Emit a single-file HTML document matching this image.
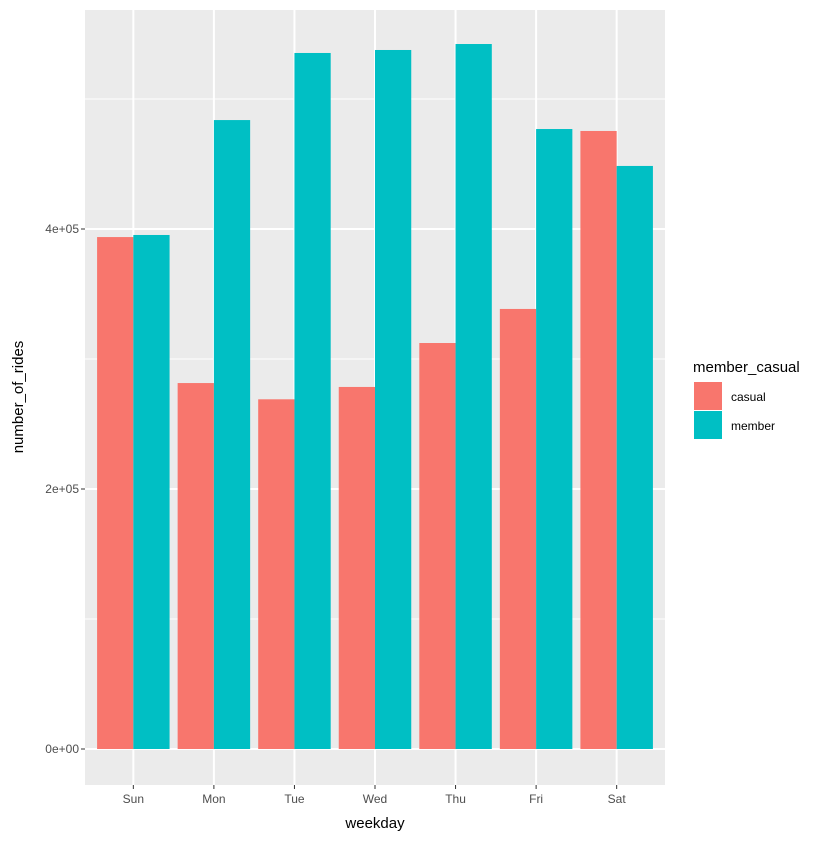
<!DOCTYPE html>
<html><head><meta charset="utf-8"><style>
body{margin:0;background:#fff;font-family:"Liberation Sans",sans-serif;}
</style></head><body>
<svg id="c" width="840" height="840" xmlns="http://www.w3.org/2000/svg"></svg>
<script>
const categories=["Sun","Mon","Tue","Wed","Thu","Fri","Sat"];
const casualValues=[393800,281500,269000,278500,312300,338500,475400];
const memberValues=[395400,483800,535400,537700,542300,476900,448500];
const yTicks=[0,200000,400000];
const yTickLabels=["0e+00","2e+05","4e+05"];
const yMinor=[100000,300000,500000];
const NS="http://www.w3.org/2000/svg";
const svg=document.getElementById('c');
const L=85,R=665,T=10,B=785;
const bw=(R-L)/7.2;
function xc(i){return L+(i+0.6)*bw;}
function y(v){return 749-v*0.0013;}
function mk(t,a,p){const e=document.createElementNS(NS,t);for(const k in a)e.setAttribute(k,a[k]);(p||svg).appendChild(e);return e;}
const panel=mk('rect',{x:L,y:T,width:R-L,height:B-T,fill:'#ebebeb'});


yMinor.forEach(v=>{const l=mk('line',{x1:L,x2:R,y1:y(v),y2:y(v),stroke:'#fff','stroke-width':1});

});
yTicks.forEach((v,i)=>{const l=mk('line',{x1:L,x2:R,y1:y(v),y2:y(v),stroke:'#fff','stroke-width':2});


const tk=mk('line',{x1:L-4,x2:L,y1:y(v),y2:y(v),stroke:'#333','stroke-width':1});


const t=mk('text',{x:L-6,y:y(v)+4,'text-anchor':'end','font-size':12,fill:'#4d4d4d'});t.textContent=yTickLabels[i];

});
categories.forEach((c,i)=>{const x=xc(i);
const g=mk('line',{x1:x,x2:x,y1:T,y2:B,stroke:'#fff','stroke-width':2});


const hw=bw*0.45;
const b1=mk('rect',{x:x-hw,y:y(casualValues[i]),width:hw,height:y(0)-y(casualValues[i]),fill:'#f8766d'});


const b2=mk('rect',{x:x,y:y(memberValues[i]),width:hw,height:y(0)-y(memberValues[i]),fill:'#00bfc4'});


const tk=mk('line',{x1:x,x2:x,y1:B,y2:B+4,stroke:'#333'});


const t=mk('text',{x:x,y:B+18,'text-anchor':'middle','font-size':12,fill:'#4d4d4d'});t.textContent=c;

});
const xt=mk('text',{x:(L+R)/2,y:828,'text-anchor':'middle','font-size':15,fill:'#000'});xt.textContent='weekday';


const yt=mk('text',{x:0,y:0,transform:'translate(23,397) rotate(-90)','text-anchor':'middle','font-size':15,fill:'#000'});yt.textContent='number_of_rides';


const lt=mk('text',{x:693,y:372,'font-size':15,fill:'#000'});lt.textContent='member_casual';


[['casual','#f8766d',382],['member','#00bfc4',411]].forEach(([n,col,yy])=>{
const k=mk('rect',{x:694,y:yy,width:28,height:28,fill:col});


const t=mk('text',{x:731,y:yy+19,'font-size':12,fill:'#000'});t.textContent=n;

});
</script>
</body></html>
